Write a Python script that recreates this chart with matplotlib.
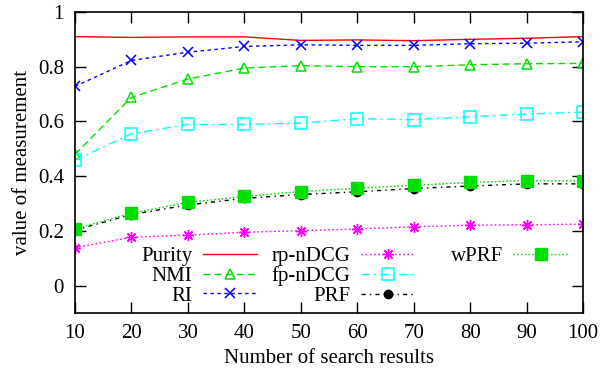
import matplotlib
matplotlib.use("Agg")
import matplotlib.pyplot as plt
from matplotlib.lines import Line2D

plt.rcParams['font.family'] = ['Liberation Serif', 'DejaVu Serif']
plt.rcParams['font.size'] = 15

# number of search results
x = [10, 20, 30, 40, 50, 60, 70, 80, 90, 100]

purity = [0.910, 0.907, 0.909, 0.909, 0.896, 0.898, 0.895, 0.900, 0.904, 0.910]
nmi = [0.480, 0.688, 0.755, 0.795, 0.804, 0.800, 0.800, 0.807, 0.811, 0.812]
ri = [0.728, 0.823, 0.853, 0.874, 0.880, 0.878, 0.878, 0.884, 0.886, 0.891]
rp_ndcg = [0.139, 0.177, 0.185, 0.195, 0.201, 0.207, 0.215, 0.221, 0.222, 0.225]
fp_ndcg = [0.458, 0.555, 0.589, 0.589, 0.594, 0.610, 0.607, 0.617, 0.627, 0.634]
prf = [0.203, 0.260, 0.295, 0.319, 0.333, 0.343, 0.355, 0.364, 0.372, 0.372]
wprf = [0.207, 0.265, 0.304, 0.326, 0.344, 0.356, 0.367, 0.377, 0.384, 0.383]

green = '#00e000'

fig = plt.figure(figsize=(6.1, 3.74), dpi=100)
ax = fig.add_axes([0.123, 0.163, 0.833, 0.805])

lw = 1.0
ax.plot(x, purity, color='red', lw=lw, label='Purity')
ax.plot(x, nmi, color=green, lw=lw, dashes=(5, 3), marker='^', ms=7,
        mfc='none', mew=1.1, label='NMI')
ax.plot(x, ri, color='blue', lw=lw, dashes=(2.5, 2.5), marker='x', ms=7,
        mew=1.1, label='RI')
ax.plot(x, rp_ndcg, color='magenta', lw=lw, dashes=(1.2, 1.8), marker=(8, 2, 0),
        ms=8, mew=1.0, label='rp-nDCG')
ax.plot(x, fp_ndcg, color='cyan', lw=lw, dashes=(6, 3, 1.5, 3), marker='s', ms=8,
        mfc='none', mew=1.1, label='fp-nDCG')
ax.plot(x, prf, color='black', lw=lw, dashes=(3, 3, 1, 3), marker='o', ms=6,
        label='PRF')
ax.plot(x, wprf, color=green, lw=lw, dashes=(1.2, 1.5), marker='s', ms=8,
        label='wPRF')

ax.set_xlim(10, 100)
ax.set_ylim(-0.1, 1.0)
ax.set_xticks(x)
ax.set_yticks([0, 0.2, 0.4, 0.6, 0.8, 1.0])
ax.set_yticklabels(['0', '0.2', '0.4', '0.6', '0.8', '1'])
ax.tick_params(direction='in', length=8, width=1, top=True, right=True, pad=8)
for s in ax.spines.values():
    s.set_linewidth(1.2)

ax.set_xlabel('Number of search results', labelpad=4)
ax.set_ylabel('value of measurement', labelpad=4)

handles, labels = ax.get_legend_handles_labels()
blank = Line2D([], [], color='none')
handles += [blank, blank]
labels += [' ' * 14, ' ' * 14]
ax.legend(handles, labels, ncol=3, markerfirst=False, frameon=False, numpoints=1,
          loc='upper left', bbox_to_anchor=(0.13, 0.22), handlelength=2.6,
          handletextpad=0.5, labelspacing=0.0, columnspacing=0.7,
          borderpad=0, borderaxespad=0)

fig.savefig('out.png', dpi=100)
